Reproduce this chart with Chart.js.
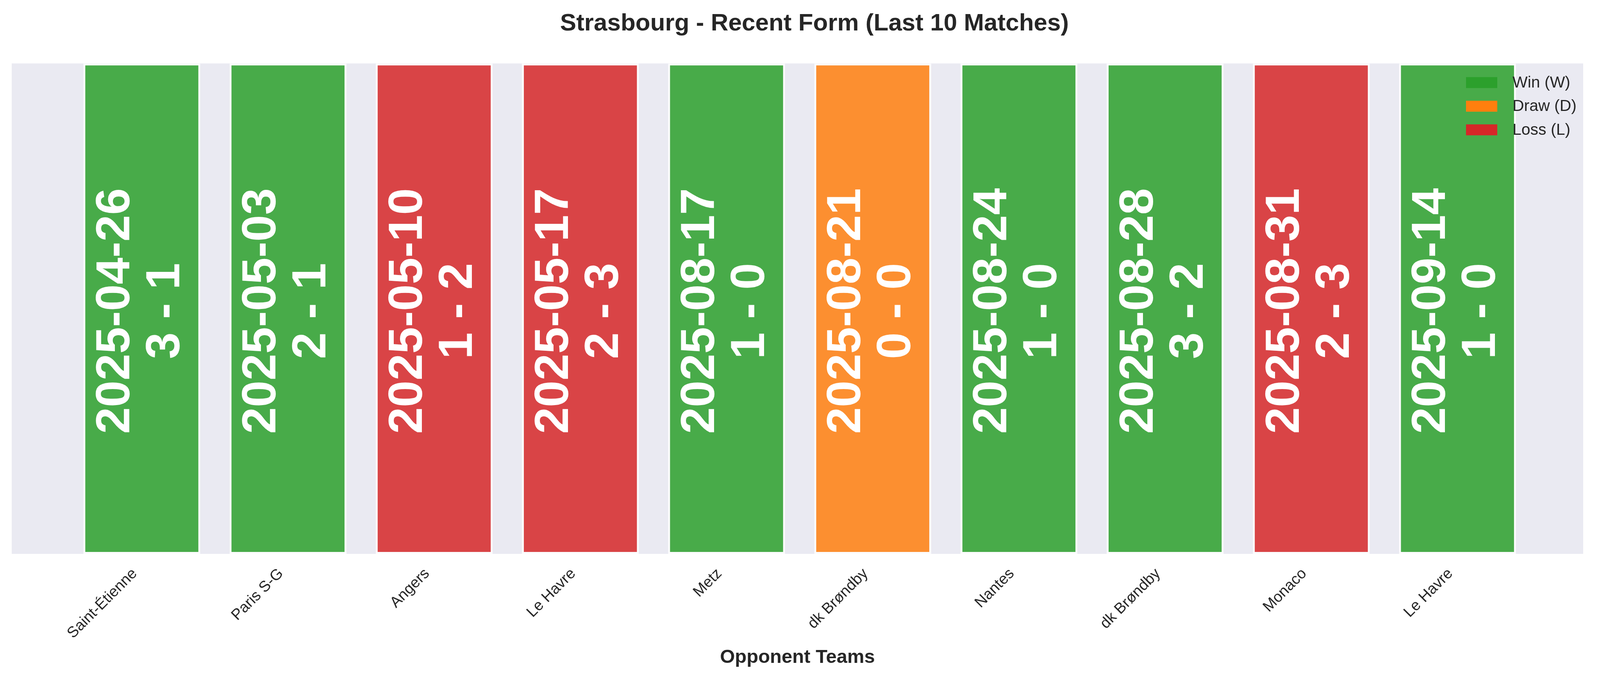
<!DOCTYPE html>
<html><head><meta charset="utf-8">
<script src="https://cdn.jsdelivr.net/npm/chart.js@4.4.1/dist/chart.umd.min.js"></script>
<style>html,body{margin:0;padding:0;background:#fff;}canvas{display:block;}</style>
</head><body>
<canvas id="c" width="4170" height="1769"></canvas>
<script>
const opponents = ["Saint-Étienne","Paris S-G","Angers","Le Havre","Metz","dk Brøndby","Nantes","dk Brøndby","Monaco","Le Havre"];
const matchDates = ["2025-04-26","2025-05-03","2025-05-10","2025-05-17","2025-08-17","2025-08-21","2025-08-24","2025-08-28","2025-08-31","2025-09-14"];
const scores = ["3 - 1","2 - 1","1 - 2","2 - 3","1 - 0","0 - 0","1 - 0","3 - 2","2 - 3","1 - 0"];
const results = ["W","W","L","L","W","D","W","W","L","W"];
const barHeights = [1,1,1,1,1,1,1,1,1,1];
const legendKeys = ["W","D","L"];
const legendLabels = ["Win (W)","Draw (D)","Loss (L)"];
const resultColors = {W:"#2ca02c", D:"#ff7f0e", L:"#d62728"};
const resultFills = {W:"rgba(44,160,44,0.85)", D:"rgba(255,127,14,0.85)", L:"rgba(214,39,40,0.85)"};
const chartTitle = "Strasbourg - Recent Form (Last 10 Matches)";
const xTitle = "Opponent Teams";

const FONT = '"Liberation Sans", Arial, sans-serif';
const INK = '#262626';

const bgPlugin = {
  id: 'bg',
  beforeDraw(chart) {
    const {ctx, chartArea: a} = chart;
    ctx.save();
    ctx.fillStyle = '#EAEAF2';
    ctx.fillRect(a.left, a.top, a.right - a.left, a.bottom - a.top);
    ctx.restore();
  }
};

const barTextPlugin = {
  id: 'barText',
  afterDatasetsDraw(chart) {
    const ctx = chart.ctx;
    const meta = chart.getDatasetMeta(0);
    const yMid = chart.scales.y.getPixelForValue(0.5);
    ctx.save();
    ctx.fillStyle = '#ffffff';
    ctx.font = 'bold 123px ' + FONT;
    ctx.textAlign = 'center';
    ctx.textBaseline = 'alphabetic';
    meta.data.forEach((bar, i) => {
      ctx.save();
      ctx.translate(bar.x, yMid + 6);
      ctx.rotate(-Math.PI / 2);
      ctx.fillText(matchDates[i], 0, -32);
      ctx.fillText(scores[i], 0, 96);
      ctx.restore();
    });
    ctx.restore();
  }
};

const legendPlugin = {
  id: 'customLegend',
  afterDraw(chart) {
    const {ctx, chartArea: a} = chart;
    ctx.save();
    ctx.font = '41px ' + FONT;
    ctx.textBaseline = 'middle';
    ctx.textAlign = 'left';
    legendKeys.forEach((k, i) => {
      const cy = a.top + 49 + i * 60.5;
      const sx = a.right - 300;
      ctx.fillStyle = resultColors[k];
      ctx.fillRect(sx, cy - 14, 80, 28);
      ctx.fillStyle = INK;
      ctx.fillText(legendLabels[i], sx + 119, cy + 1);
    });
    ctx.restore();
  }
};

new Chart(document.getElementById('c'), {
  type: 'bar',
  data: {
    datasets: [{
      data: barHeights.map((h, i) => ({x: i, y: h})),
      backgroundColor: results.map(r => resultFills[r]),
      borderColor: 'rgba(255,255,255,0.85)',
      borderWidth: 5,
      borderSkipped: false,
      barPercentage: 0.8,
      categoryPercentage: 1.0
    }]
  },
  options: {
    responsive: false,
    devicePixelRatio: 1,
    animation: false,
    layout: {padding: {left: 30, right: 30, top: 0, bottom: 0}},
    plugins: {
      legend: {display: false},
      tooltip: {enabled: false},
      title: {
        display: true, text: chartTitle, color: INK,
        font: {family: FONT, size: 62, weight: 'bold'},
        padding: {top: 24, bottom: 64}
      }
    },
    scales: {
      x: {
        type: 'linear', min: -0.89, max: 9.86, offset: false,
        afterBuildTicks: s => { s.ticks = opponents.map((_, i) => ({value: i})); },
        afterFit: s => { s.height = 351; },
        grid: {display: false, drawTicks: false},
        border: {display: false},
        ticks: {
          autoSkip: false, minRotation: 45, maxRotation: 45,
          padding: 28, labelOffset: -18, color: INK,
          font: {family: FONT, size: 39},
          callback: v => opponents[v]
        },
        title: {
          display: true, text: xTitle, color: INK,
          font: {family: FONT, size: 49, weight: 'bold'},
          padding: {top: 0, bottom: 56}
        }
      },
      y: {display: false, min: 0, max: 1},
      yRight: {
        type: 'linear', position: 'right', display: true,
        grid: {display: false, drawTicks: false},
        border: {display: false},
        ticks: {display: false},
        afterFit: s => { s.width = 87; }
      }
    }
  },
  plugins: [bgPlugin, barTextPlugin, legendPlugin]
});
</script>
</body></html>
